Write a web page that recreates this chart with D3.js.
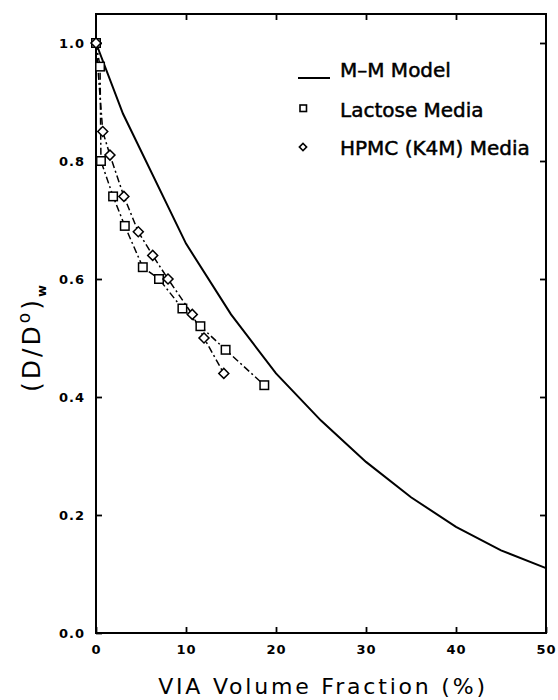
<!DOCTYPE html>
<html>
<head>
<meta charset="utf-8">
<script src="https://cdn.jsdelivr.net/npm/d3@7"></script>
<style>
  html, body { margin: 0; padding: 0; background: #fff; }
  svg { display: block; }
  .title { font-family: "DejaVu Sans", sans-serif; fill: #000; }
  .legend { font-family: "DejaVu Sans", sans-serif; font-size: 20px; fill: #000; stroke: #000; stroke-width: 0.5px; }
</style>
</head>
<body>
<svg id="chart" width="558" height="700"></svg>
<script>
// Mackie–Meares model curve
const mmX = [0, 3, 10, 15, 20, 25, 30, 35, 40, 45, 50];
const mmY = [1.0, 0.88, 0.66, 0.54, 0.44, 0.36, 0.29, 0.23, 0.18, 0.14, 0.11];

// Lactose media (squares)
const lacX = [0, 0.45, 0.55, 1.9, 3.2, 5.2, 7.0, 9.6, 11.6, 14.4, 18.7];
const lacY = [1.0, 0.96, 0.80, 0.74, 0.69, 0.62, 0.60, 0.55, 0.52, 0.48, 0.42];

// HPMC (K4M) media (diamonds)
const hpmcX = [0, 0.75, 1.55, 3.1, 4.7, 6.3, 8.0, 10.7, 12.0, 14.2];
const hpmcY = [1.0, 0.85, 0.81, 0.74, 0.68, 0.64, 0.60, 0.54, 0.50, 0.44];

const xTicks = [0, 10, 20, 30, 40, 50];
const yTicks = [0.0, 0.2, 0.4, 0.6, 0.8, 1.0];

const legendLabels = ["M\u2013M Model", "Lactose Media", "HPMC (K4M) Media"];

const svg = d3.select("#chart");
const plotL = 96, plotR = 546, plotT = 14, plotB = 633;

const x = d3.scaleLinear().domain([0, 50]).range([plotL, plotR]);
const y = d3.scaleLinear().domain([0, 1]).range([plotB, plotB - 590]);

// frame
svg.append("rect")
  .attr("x", plotL).attr("y", plotT)
  .attr("width", plotR - plotL).attr("height", plotB - plotT)
  .attr("fill", "none").attr("stroke", "#000").attr("stroke-width", 2);

// axes with inward ticks on all four sides
const axisBottom = d3.axisBottom(x).tickValues(xTicks).tickSize(-6).tickFormat(d3.format("d")).tickPadding(12);
const axisTop = d3.axisTop(x).tickValues(xTicks.slice(1, -1)).tickSize(-6).tickFormat("");
const axisLeft = d3.axisLeft(y).tickValues(yTicks).tickSize(-6).tickFormat(d3.format(".1f")).tickPadding(11);
const axisRight = d3.axisRight(y).tickValues(yTicks.filter(v => v > 0)).tickSize(-6).tickFormat("");

function styleAxis(g) {
  g.select(".domain").remove();
  g.selectAll(".tick line").attr("stroke", "#000").attr("stroke-width", 1.8);
  g.selectAll(".tick text")
    .attr("fill", "#000")
    .style("font-family", "'DejaVu Sans', sans-serif")
    .style("font-weight", "bold")
    .style("font-size", "13px")
    .style("letter-spacing", "1px");
}

svg.append("g").attr("transform", `translate(0,${plotB})`).call(axisBottom).call(styleAxis);
svg.append("g").attr("transform", `translate(0,${plotT})`).call(axisTop).call(styleAxis);
svg.append("g").attr("transform", `translate(${plotL},0)`).call(axisLeft).call(styleAxis);
svg.append("g").attr("transform", `translate(${plotR},0)`).call(axisRight).call(styleAxis);

// model curve
const line = d3.line().x(d => x(d[0])).y(d => y(d[1]));
svg.append("path")
  .datum(d3.zip(mmX, mmY))
  .attr("d", line)
  .attr("fill", "none").attr("stroke", "#000").attr("stroke-width", 2);

// measured series: dash-dot connecting lines
const lac = d3.zip(lacX, lacY);
const hpmc = d3.zip(hpmcX, hpmcY);

svg.append("path").datum(lac).attr("d", line)
  .attr("fill", "none").attr("stroke", "#000").attr("stroke-width", 1.5)
  .attr("stroke-dasharray", "7,3,2,3");
svg.append("path").datum(hpmc).attr("d", line)
  .attr("fill", "none").attr("stroke", "#000").attr("stroke-width", 1.5)
  .attr("stroke-dasharray", "7,3,2,3");

// markers
const sq = 8.5;
svg.append("g").selectAll("rect").data(lac).join("rect")
  .attr("x", d => x(d[0]) - sq / 2).attr("y", d => y(d[1]) - sq / 2)
  .attr("width", sq).attr("height", sq)
  .attr("fill", "#fff").attr("stroke", "#000").attr("stroke-width", 1.5);

const diamond = d3.symbol().type(d3.symbolSquare).size(50);
svg.append("g").selectAll("path").data(hpmc).join("path")
  .attr("transform", d => `translate(${x(d[0])},${y(d[1])}) rotate(45)`)
  .attr("d", diamond)
  .attr("fill", "#fff").attr("stroke", "#000").attr("stroke-width", 1.5);

// legend
const lg = svg.append("g");
lg.append("line").attr("x1", 298).attr("x2", 330).attr("y1", 78).attr("y2", 78)
  .attr("stroke", "#000").attr("stroke-width", 2);
lg.append("rect").attr("x", 300).attr("y", 105).attr("width", 6.5).attr("height", 6.5)
  .attr("fill", "#fff").attr("stroke", "#000").attr("stroke-width", 1.6);
lg.append("path").attr("transform", "translate(303,147) rotate(45)")
  .attr("d", d3.symbol().type(d3.symbolSquare).size(26))
  .attr("fill", "#fff").attr("stroke", "#000").attr("stroke-width", 1.6);
[77, 117, 155].forEach((yy, i) => {
  lg.append("text").attr("class", "legend").attr("x", 340).attr("y", yy).text(legendLabels[i]);
});

// axis titles
svg.append("text").attr("class", "title")
  .attr("x", 323).attr("y", 694)
  .attr("text-anchor", "middle")
  .style("font-size", "22px").style("letter-spacing", "2.8px")
  .text("VIA Volume Fraction (%)");

const yt = svg.append("text").attr("class", "title")
  .attr("transform", "translate(40,337) rotate(-90)")
  .attr("text-anchor", "middle")
  .style("font-size", "25px").style("letter-spacing", "3px");
yt.append("tspan").text("(D/D");
yt.append("tspan").attr("dy", -10).style("font-size", "17px").text("o");
yt.append("tspan").attr("dy", 10).text(")");
yt.append("tspan").attr("dy", 6).style("font-size", "13px").style("font-weight", "bold").text("w");
</script>
</body>
</html>
